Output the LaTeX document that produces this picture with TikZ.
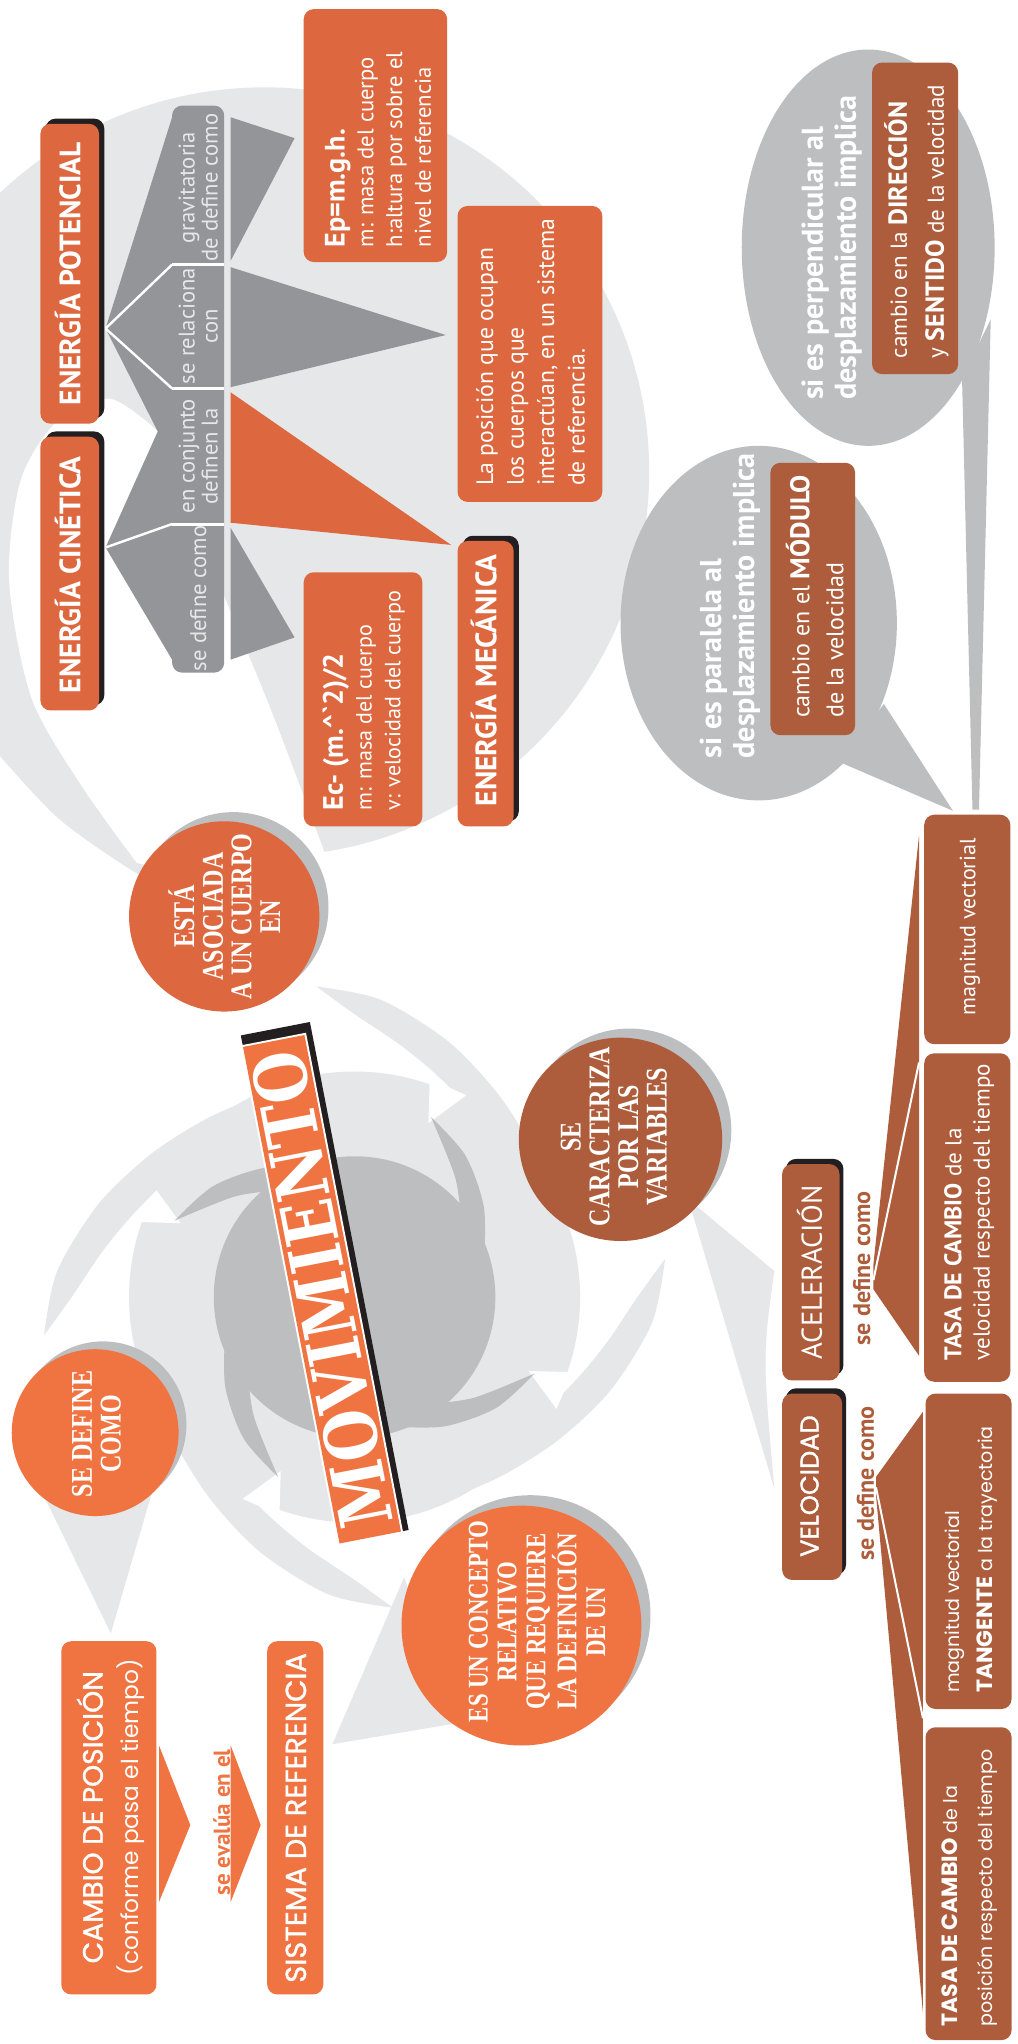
\documentclass[tikz,border=0pt]{standalone}
\usepackage{fontspec}
\setmainfont{PT Sans}
\newfontfamily\popfont{Poppins}
\newfontfamily\popmed[FakeBold=1.2]{Poppins}
\newfontfamily\circfont[FakeStretch=0.8]{Liberation Serif}
\newfontfamily\stampfont[FakeStretch=0.83]{DejaVu Serif}
\usetikzlibrary{calc}
\definecolor{orA}{HTML}{DD683F}
\definecolor{orB}{HTML}{F07442}
\definecolor{brn}{HTML}{AD5D3C}
\definecolor{gcol}{HTML}{939598}
\definecolor{lgr}{HTML}{E6E7E8}
\definecolor{mgr}{HTML}{BCBEC0}
\definecolor{shd}{HTML}{231F20}
\newcommand{\myu}{0.65pt}
\begin{document}
\begin{tikzpicture}[x=0.65pt,y=-0.65pt]
\tikzset{
  bx/.style 2 args={rotate=90, minimum width={#2*\myu}, minimum height={#1*\myu}, inner sep=0pt, outer sep=0pt, rounded corners=5pt},
  tx/.style={rotate=90, inner sep=0pt, text=white},
  circ/.style={circle, minimum size={#1*\myu}, inner sep=0pt},
  circtext/.style={rotate=90, inner sep=0pt, text=white, align=center, font=\circfont\bfseries\fontsize{15}{14.3}\selectfont},
  sdc/.style={rotate=90, inner sep=0pt, text=brn, font=\bfseries\fontsize{12}{14}\selectfont},
  ttl/.style={rotate=90, inner sep=0pt, text=white, font=\bfseries\fontsize{14.7}{16}\selectfont},
}
\useasboundingbox (0,0) rectangle (780.2,1568);
\fill[white] (0,0) rectangle (780.2,1568);
\begin{scope}
\clip (0,0) rectangle (780.2,1568);
% ---------- top disc with tail ----------
\fill[lgr] (203,362) circle (295);
\fill[lgr] (-10,470) -- (-10,580) -- plot[smooth] coordinates {(0,580) (45,628) (100,667) (130,682)} -- (150,640) -- (60,560) -- (40,470) -- cycle;
\fill[white] plot[smooth] coordinates {(125,334) (85,306) (45,322) (16,368) (7,445) (24,535) (62,602) (105,662)} -- (265,700) -- plot[smooth] coordinates {(249,654) (210,550) (173,460)} -- (150,400) -- cycle;
% ---------- central swirl ----------
\begin{scope}[shift={(272,995)}]
\fill[lgr] (0,0) circle (173);
\foreach \k in {0,90,180,270}{
  \fill[lgr] plot[smooth] coordinates {(-97+\k:240) (-85+\k:229) (-70+\k:209) (-55+\k:191) (-40+\k:178) (-25+\k:171)}
     -- plot[smooth] coordinates {(-55+\k:168) (-70+\k:182) (-80+\k:197) (-90+\k:217) (-97+\k:240)} -- cycle;
  \fill[white] (-157+\k:145) -- (-161+\k:177) -- (-151+\k:177) -- cycle;
  \fill[mgr] plot[smooth] coordinates {(-157+\k:150) (-142+\k:138) (-125+\k:121) (-107+\k:104)}
     -- plot[smooth] coordinates {(-125+\k:100) (-140+\k:120) (-157+\k:150)} -- cycle;
}
\fill[mgr] (0,0) circle (108);
\end{scope}
\end{scope}
% ---------- speech bubbles ----------
\fill[mgr] (666,190) ellipse [x radius=97, y radius=152];
\fill[mgr] (738,290) -- (760,245) -- (751,621) -- (746,621) -- cycle;
\fill[mgr] (582,478) ellipse [x radius=106, y radius=136];
\fill[mgr] (678,540) -- (731,622) -- (645,585) -- cycle;
% ---------- circle tails ----------
\fill[lgr] (30,1140) -- (118,1140) -- (85,1253) -- cycle;
\fill[lgr] (310,1210) -- (255,1338) -- (350,1322) -- cycle;
\fill[lgr] (528,920) -- (594,975) .. controls (585,1040) .. (594,1142) -- cycle;
% ---------- circles ----------
\fill[mgr] (179,696) circle (73);
\node[circ=146, fill=orA] (esta) at (172,703) {};
\fill[mgr] (79,1093) circle (64);
\node[circ=128, fill=orB] (sedef) at (73,1099) {};
\fill[mgr] (407,1239) circle (92);
\node[circ=184, fill=orB] (concepto) at (400,1247) {};
\fill[mgr] (483,867) circle (78);
\node[circ=156, fill=brn] (caract) at (476,874) {};
\node[circtext] (estaT) at (172,703) {ESTÁ\\ASOCIADA\\A UN CUERPO\\EN};
\node[circtext] (sedefT) at (74,1100) {SE DEFINE\\COMO};
\node[circtext, font=\circfont\bfseries\fontsize{14.2}{14.4}\selectfont] (conceptoT) at (412,1244) {ES UN CONCEPTO\\RELATIVO\\QUE REQUIERE\\LA DEFINICIÓN\\DE UN};
\node[circtext] (caractT) at (471,872) {SE\\CARACTERIZA\\POR LAS\\VARIABLES};
% ---------- top fans ----------
\coordinate (apexP) at (81,252);
\coordinate (apexC) at (81,420);
\fill[gcol] (apexP) -- (132,90) -- (132,506) -- (apexC) -- (121,331) -- cycle;
\draw[white, line width=1.2pt] (apexP) -- (132,203) (apexP) -- (132,298) (apexC) -- (132,402);
\fill[gcol] (177,90) -- (177,200) -- (226,106) -- cycle;
\fill[gcol] (177,205) -- (177,297) -- (342,257) -- cycle;
\fill[orA] (177,301) -- (177,401) -- (346,418) -- cycle;
\fill[gcol] (177,405) -- (177,506) -- (226,489) -- cycle;
% ---------- top boxes ----------
\node[bx={45}{230}, fill=shd] at (57.5,206) {};
\node[bx={45}{230}, fill=orA] (potencial) at (53.5,210) {};
\node[bx={45}{210}, fill=shd] at (57.5,436) {};
\node[bx={45}{210}, fill=orA] (cinetica) at (53.5,440) {};
\node[bx={40}{435}, fill=gcol] (col) at (152,298.5) {};
\draw[white, line width=1.5pt] (132,203) -- (172,203) (132,298) -- (172,298) (132,402) -- (172,402);
\node[bx={110}{194}, fill=orA] (ep) at (288,104) {};
\node[bx={111}{227}, fill=orA] (posicion) at (406.5,271.5) {};
\node[bx={91}{195}, fill=orA] (ec) at (278.5,536.5) {};
\node[bx={43}{219}, fill=shd] at (376.5,520.5) {};
\node[bx={43}{219}, fill=orA] (mecanica) at (372.5,524.5) {};
% ---------- right boxes ----------
\node[bx={66}{239}, fill=brn] (direccion) at (702,167.5) {};
\node[bx={65}{209}, fill=brn] (modulo) at (623.5,459.5) {};
\node[bx={66}{176}, fill=brn] (magvec) at (742,713) {};
\node[bx={66}{252}, fill=brn] (tasaA) at (742,934) {};
\node[bx={44}{166}, fill=shd] at (625,972) {};
\node[bx={44}{166}, fill=brn] (acel) at (622,976) {};
\node[bx={46}{143}, fill=shd] at (626,1136.5) {};
\node[bx={46}{143}, fill=brn] (vel) at (623,1140.5) {};
\node[bx={66}{242}, fill=brn] (tangente) at (743,1190) {};
\node[bx={66}{240}, fill=brn] (tasaB) at (743,1445) {};
% fans lower right
\fill[brn] (670,970) -- (705,641) -- (705,1040) -- (670,989) -- cycle;
\draw[white, line width=1pt] (670,982) -- (705,815);
\fill[brn] (672,1133) -- (708,1083) -- (708,1544) -- (672,1147) -- cycle;
\draw[white, line width=1pt] (672,1141) -- (708,1318);
% ---------- bottom left ----------
\node[bx={73}{271}, fill=orB] (cambio) at (83.5,1394.5) {};
\node[bx={43}{271}, fill=orB] (sistema) at (226.5,1394.5) {};
\fill[orB] (122,1339) -- (146,1400) -- (122,1459) -- cycle;
\fill[orB] (177,1339) -- (200,1400) -- (177,1459) -- cycle;
% ---------- MOVIMIENTO stamp ----------
\node[rotate=101, minimum width={397*\myu}, minimum height={54*\myu}, inner sep=0pt, fill=shd] (stampS) at (249.1,984) {};
\node[rotate=101, minimum width={391*\myu}, minimum height={51*\myu}, inner sep=0pt, fill=white] (stampW) at (247,989) {};
\node[rotate=101, minimum width={388*\myu}, minimum height={48*\myu}, inner sep=0pt, fill=orB, text=white, font=\stampfont\bfseries\fontsize{36}{36}\selectfont] (stamp) at (247,989) {MOVIMIENTO};
% ---------- texts ----------
\node[ttl] (potT) at (52,210) {ENERGÍA POTENCIAL};
\node[ttl] (cinT) at (52,441) {ENERGÍA CINÉTICA};
\node[ttl] (mecT) at (371,522) {ENERGÍA MECÁNICA};
\node[tx, text=lgr, align=center, font=\fontsize{11.3}{11.5}\selectfont] (c1) at (152,144) {gravitatoria\\de define como};
\node[tx, text=lgr, align=center, font=\fontsize{11.3}{11.5}\selectfont] (c2) at (152,250) {se relaciona\\con};
\node[tx, text=lgr, align=center, font=\fontsize{11.3}{11.5}\selectfont] (c3) at (152,350) {en conjunto\\definen la};
\node[tx, text=lgr, align=center, font=\fontsize{11.3}{11.5}\selectfont] (c4) at (152,459) {se define como};
\node[tx, anchor=west, align=left, font=\fontsize{11.3}{14.3}\selectfont] (epT) at (290,190) {{\bfseries\fontsize{14}{16}\selectfont Ep=m.g.h.}\\m: masa del cuerpo\\h:altura por sobre el\\nivel de referencia};
\node[tx, anchor=west, align=left, font=\fontsize{11.8}{15.2}\selectfont] (posT) at (407,373) {La posición que ocupan\\los cuerpos que\\interactúan, en un sistema\\de referencia.};
\node[tx, anchor=west, align=left, font=\fontsize{11}{14.3}\selectfont] (ecT) at (279,622) {{\bfseries\fontsize{14}{16}\selectfont Ec- (m.\textasciicircum\textasciigrave 2)/2}\\m: masa del cuerpo\\v: velocidad del cuerpo};
\node[tx, anchor=west, align=left, font=\bfseries\fontsize{15}{16.5}\selectfont] (b1T) at (638,307) {si es perpendicular al\\desplazamiento implica};
\node[tx, anchor=west, align=left, font=\bfseries\fontsize{15}{16.5}\selectfont] (b2T) at (560,582) {si es paralela al\\desplazamiento implica};
\node[tx, anchor=west, align=left, font=\fontsize{11.5}{18.5}\selectfont] (dirT) at (703,275) {cambio en la \textbf{\fontsize{13}{18.5}\selectfont DIRECCIÓN}\\y \textbf{\fontsize{13}{18.5}\selectfont SENTIDO} de la velocidad};
\node[tx, anchor=west, align=left, font=\fontsize{12}{17}\selectfont] (modT) at (625,551) {cambio en el \textbf{\fontsize{13.5}{17}\selectfont MÓDULO}\\de la velocidad};
\node[tx, font=\fontsize{11}{13}\selectfont] (magT) at (744,711) {magnitud vectorial};
\node[tx, anchor=west, align=left, font=\fontsize{11.5}{14.2}\selectfont] (tasaAT) at (743.5,1044) {\textbf{\fontsize{12}{14.2}\selectfont TASA DE CAMBIO} de la\\velocidad respecto del tiempo};
\node[tx, font=\fontsize{14.3}{15}\selectfont] (acelT) at (621,976) {ACELERACIÓN};
\node[sdc] (sdA) at (661,973) {se define como};
\node[tx, font=\popmed\fontsize{12.8}{14}\selectfont] (velT) at (621,1140) {VELOCIDAD};
\node[sdc] (sdV) at (664,1138) {se define como};
\node[tx, anchor=west, align=left, font=\popfont\fontsize{9.5}{16}\selectfont] (tanT) at (745,1299) {magnitud vectorial\\\textbf{\fontsize{11}{16}\selectfont TANGENTE} a la trayectoria};
\node[tx, anchor=west, align=left, font=\popfont\fontsize{9.5}{17.5}\selectfont] (tasaBT) at (744,1555) {\textbf{\fontsize{11}{17.5}\selectfont TASA DE CAMBIO} de la\\posición respecto del tiempo};
\node[tx, align=center, font=\popfont\fontsize{11.6}{18}\selectfont] (camT) at (85,1394) {{\popmed\fontsize{14}{18}\selectfont CAMBIO DE POSICIÓN}\\(conforme pasa el tiempo)};
\node[tx, font=\popmed\fontsize{14.4}{16}\selectfont] (sisT) at (227,1394.5) {SISTEMA DE REFERENCIA};
\node[tx, text=orB, font=\bfseries\fontsize{11.5}{13}\selectfont] (evT) at (170,1398) {se evalúa en el};
\end{tikzpicture}
\end{document}
